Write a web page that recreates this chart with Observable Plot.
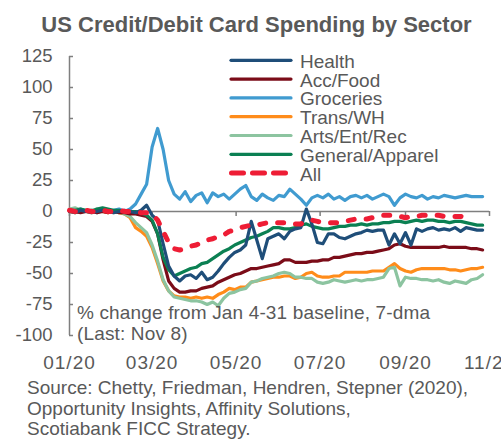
<!DOCTYPE html>
<html><head><meta charset="utf-8">
<script src="https://cdn.jsdelivr.net/npm/d3@7"></script>
<script src="https://cdn.jsdelivr.net/npm/@observablehq/plot@0.6"></script>
<style>
html,body{margin:0;padding:0;background:#fff;overflow:hidden}
#wrap{position:relative;width:501px;height:441px;font-family:"Liberation Sans",Arial,sans-serif;color:#595959}
#title{position:absolute;left:0;top:12px;width:501px;padding-left:12px;box-sizing:border-box;text-align:center;font-size:22px;font-weight:bold;line-height:26px;white-space:nowrap}
#chart{position:absolute;left:0;top:40px}
#legend{position:absolute;left:0;top:0;pointer-events:none}
#note{position:absolute;left:77px;top:302px;font-size:19px;line-height:21px;letter-spacing:0.15px;white-space:nowrap}
#caption{position:absolute;left:27px;top:378px;font-size:19px;line-height:20.5px;white-space:nowrap}
#chart g[aria-label="x-axis tick label"] text{letter-spacing:1px}
</style>
</head><body>
<div id="wrap">
  <div id="title">US Credit/Debit Card Spending by Sector</div>
  <div id="chart"></div>
  <div id="note">% change from Jan 4-31 baseline, 7-dma<br>(Last: Nov 8)</div>
  <svg id="legend" width="501" height="441"></svg>
  <div id="caption">Source: Chetty, Friedman, Hendren, Stepner (2020),<br>Opportunity Insights, Affinity Solutions,<br>Scotiabank FICC Strategy.</div>
</div>
<script>
const dates = [
 "2020-01-01","2020-01-05","2020-01-09","2020-01-13","2020-01-17","2020-01-21","2020-01-25","2020-01-29","2020-02-02","2020-02-06",
 "2020-02-10","2020-02-14","2020-02-18","2020-02-22","2020-02-26","2020-03-01","2020-03-05","2020-03-09","2020-03-13","2020-03-17",
 "2020-03-21","2020-03-25","2020-03-29","2020-04-02","2020-04-06","2020-04-10","2020-04-14","2020-04-18","2020-04-22","2020-04-26",
 "2020-04-30","2020-05-04","2020-05-08","2020-05-12","2020-05-16","2020-05-20","2020-05-24","2020-05-28","2020-06-01","2020-06-05",
 "2020-06-09","2020-06-13","2020-06-17","2020-06-21","2020-06-25","2020-06-29","2020-07-03","2020-07-07","2020-07-11","2020-07-15",
 "2020-07-19","2020-07-23","2020-07-27","2020-07-31","2020-08-04","2020-08-08","2020-08-12","2020-08-16","2020-08-20","2020-08-24",
 "2020-08-28","2020-09-01","2020-09-05","2020-09-09","2020-09-13","2020-09-17","2020-09-21","2020-09-25","2020-09-29","2020-10-03",
 "2020-10-07","2020-10-11","2020-10-15","2020-10-19","2020-10-23","2020-10-27"
];
const health = [
 0,-1,1,0,-1,0,1,0,-1,0,
 1,0,-1,1,5,-3,-7,-26,-44,-52,
 -56,-52,-51,-54,-49,-55,-53,-48,-42,-37,
 -33,-31,-27,-8,-23,-38,-22,-20,-18,-22,
 -16,-14,-13,2,-10,-25,-26,-18,-18,-21,
 -22,-20,-18,-17,-15,-16,-15,-15,-27,-18,
 -26,-17,-27,-14,-16,-14,-13,-15,-14,-15,
 -13,-16,-13,-14,-15,-15
];
const accFood = [
 0,0,-1,0,0,-1,0,-1,0,-1,
 -1,-2,-2,-3,-4,-8,-18,-39,-56,-62,
 -65,-65,-64,-64,-62,-61,-60,-57,-55,-53,
 -51,-50,-48,-46,-46,-45,-44,-43,-42,-39,
 -39,-41,-41,-41,-40,-40,-39,-39,-37,-37,
 -36,-35,-34,-34,-33,-33,-32,-31,-30,-27,
 -26,-28,-29,-29,-29,-29,-29,-29,-28,-29,
 -29,-29,-29,-30,-30,-31
];
const groceries = [
 1,0,2,0,1,-1,1,0,1,2,
 0,2,6,14,22,52,67,50,25,14,
 10,16,8,13,15,7,15,12,14,10,
 14,18,21,12,9,14,11,9,13,12,
 18,14,10,5,11,13,11,14,10,12,
 9,12,13,11,13,10,12,14,12,5,
 11,14,12,11,13,10,12,11,13,12,
 11,12,13,12,12,12
];
const transWH = [
 0,-1,0,0,-1,0,0,-1,0,-1,
 -2,-5,-13,-16,-20,-29,-42,-56,-64,-68,
 -69,-69,-70,-69,-70,-69,-70,-67,-65,-62,
 -63,-61,-61,-57,-56,-55,-54,-53,-53,-52,
 -52,-54,-53,-50,-49,-52,-53,-53,-52,-52,
 -49,-49,-49,-49,-49,-48,-48,-48,-45,-42,
 -46,-48,-49,-47,-46,-46,-46,-46,-46,-47,
 -47,-48,-47,-46,-46,-45
];
const artsEntRec = [
 2,3,1,0,1,2,0,1,-1,0,
 -2,-4,-9,-13,-17,-27,-40,-55,-64,-69,
 -70,-71,-72,-72,-73,-75,-73,-76,-70,-66,
 -65,-63,-62,-57,-56,-54,-53,-52,-50,-49,
 -50,-53,-53,-54,-54,-57,-58,-57,-55,-56,
 -57,-56,-55,-56,-55,-55,-54,-53,-46,-45,
 -60,-53,-54,-54,-55,-55,-56,-55,-57,-58,
 -56,-57,-58,-55,-54,-51
];
const generalApparel = [
 1,1,2,1,0,2,3,2,1,1,
 0,0,0,-1,-3,-7,-18,-37,-47,-52,
 -50,-48,-46,-45,-42,-41,-38,-35,-32,-30,
 -27,-25,-23,-21,-20,-18,-16,-13,-13,-14,
 -14,-13,-11,-10,-12,-13,-14,-14,-13,-12,
 -12,-11,-11,-10,-11,-10,-10,-9,-9,-8,
 -8,-9,-8,-7,-8,-7,-7,-8,-8,-9,
 -8,-8,-9,-10,-11,-11
];
const allSectors = [
 1,0,0,1,0,0,1,0,0,1,
 0,0,0,-1,-1,-2,-7,-16,-25,-30,
 -31,-30,-28,-27,-25,-23,-22,-20,-19,-16,
 -15,-13,-12,-11,-11,-10,-9,-9,-9,-9,
 -10,-10,-10,-8,-7,-8,-9,-9,-9,-9,
 -8,-7,-6,-6,-6,-5,-4,-3,-3,-3,
 -4,-5,-4,-4,-3,-3,-3,-3,-4,-4,
 -4,-4,-5,-5
];
const seriesNames  = ["Health","Acc/Food","Groceries","Trans/WH","Arts/Ent/Rec","General/Apparel","All"];
const seriesValues = [health, accFood, groceries, transWH, artsEntRec, generalApparel, allSectors];
const seriesColors = ["#1f4e79","#7b0c18","#409bd0","#ff8c1a","#8cc4a0","#0b8053","#ee1d35"];
const drawOrder = [2, 3, 4, 1, 5, 0, 6];
const xTickDates  = ["2020-01-01","2020-03-01","2020-05-01","2020-07-01","2020-09-01","2020-11-01"];
const xTickLabels = ["01/20","03/20","05/20","07/20","09/20","11/20"];
const yTicks      = [125,100,75,50,25,0,-25,-50,-75,-100];
const yTickLabels = ["125","100","75","50","25","0","-25","-50","-75","-100"];

// ---- build ----
const textColor = "#595959", axisGray = "#7f7f7f";
const parse = d3.utcParse("%Y-%m-%d");
const xt = xTickDates.map(parse);
const xLabel = new Map(xt.map((d, i) => [+d, xTickLabels[i]]));
const yLabel = new Map(yTicks.map((d, i) => [d, yTickLabels[i]]));
const rows = seriesValues.map((vals, s) => vals.map((v, i) => ({date: parse(dates[i]), value: v, s})));

const lineMarks = drawOrder.map(s => s === 6
  ? Plot.line(rows[s], {x: "date", y: "value", stroke: seriesColors[s], strokeWidth: 5, strokeDasharray: "6,12", strokeLinecap: "round"})
  : Plot.line(rows[s], {x: "date", y: "value", stroke: seriesColors[s], strokeWidth: 3.2, strokeLinejoin: "round"}));

const chart = Plot.plot({
  width: 501, height: 332,
  marginLeft: 69, marginRight: 12, marginTop: 16, marginBottom: 37,
  x: {type: "utc", domain: [xt[0], xt[xt.length - 1]]},
  y: {domain: [-100, 125]},
  style: {fontFamily: '"Liberation Sans", Arial, sans-serif', color: textColor, background: "transparent"},
  marks: [
    Plot.ruleX([xt[0]], {y1: -100, y2: 125, stroke: axisGray, strokeWidth: 1.5}),
    Plot.ruleY([0], {stroke: axisGray, strokeWidth: 1.5}),
    Plot.ruleX(xt, {x: d => d, y1: 0, y2: -4, stroke: axisGray, strokeWidth: 1.5}),
    Plot.axisY(yTicks, {tickSize: 4, dx: 4, fill: "none", stroke: axisGray, strokeWidth: 1.5, label: null}),
    Plot.axisY(yTicks, {tickSize: 0, tickPadding: 17, tickFormat: d => yLabel.get(d), fill: textColor, fontSize: 18.5, label: null}),
    Plot.axisX(xt, {tickSize: 0, tickPadding: 20, tickFormat: d => xLabel.get(+d), fill: textColor, fontSize: 19, label: null}),
    ...lineMarks
  ]
});
document.getElementById("chart").appendChild(chart);

// ---- legend ----
const lg = d3.select("#legend");
const lgY0 = 60.3, lgStep = 18.8;
seriesNames.forEach((name, i) => {
  const y = lgY0 + i * lgStep;
  const ln = lg.append("line").attr("x1", 231).attr("x2", 291).attr("y1", y).attr("y2", y)
    .attr("stroke", seriesColors[i]);
  if (i === 6) ln.attr("stroke-width", 5).attr("stroke-dasharray", "12,9").attr("stroke-linecap", "round").attr("x1", 231.5).attr("x2", 285.5);
  else ln.attr("stroke-width", 3.2).attr("stroke-linecap", "round");
  lg.append("text").attr("x", 300).attr("y", y + 7.5).attr("fill", textColor)
    .attr("font-family", '"Liberation Sans", Arial, sans-serif').attr("font-size", 19).text(name);
});
</script>
</body></html>
